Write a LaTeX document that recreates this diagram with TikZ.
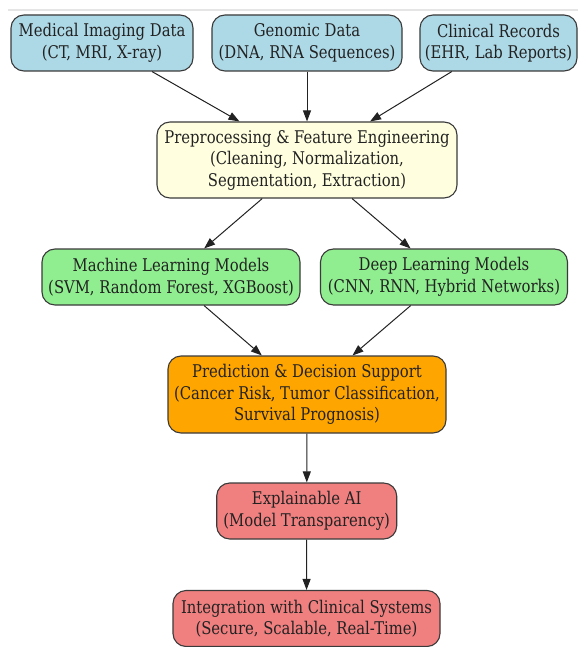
\documentclass[tikz,border=0pt]{standalone}
\usepackage{fontspec}
\setmainfont[FakeStretch=0.94]{DejaVu Serif Condensed}
\usetikzlibrary{arrows.meta}
\definecolor{cblue}{HTML}{ADD8E6}
\definecolor{cyellow}{HTML}{FFFFE0}
\definecolor{cgreen}{HTML}{90EE90}
\definecolor{corange}{HTML}{FFA500}
\definecolor{ccoral}{HTML}{F08080}
\definecolor{cborder}{HTML}{3A3A3A}
\definecolor{ctext}{HTML}{222222}
\tikzset{
  box/.style={draw=cborder, line width=1.1pt, rounded corners=13pt, align=center,
    inner sep=0pt, font=\fontsize{17.5}{21.5}\selectfont, text=ctext},
  flow/.style={draw=ctext, line width=1pt, -{Triangle[length=11pt,width=8pt]}}
}
\begin{document}
\begin{tikzpicture}[x=1pt,y=-1pt]
\useasboundingbox (0,0) rectangle (578,647);
\draw[black!10, line width=1.5pt] (8,10) -- (578,10);
\node[box, fill=cblue, minimum width=182pt, minimum height=56pt] (med) at (102,43) {Medical Imaging Data\\(CT, MRI, X-ray)};
\node[box, fill=cblue, minimum width=190pt, minimum height=56pt] (gen) at (307,43) {Genomic Data\\(DNA, RNA Sequences)};
\node[box, fill=cblue, minimum width=157pt, minimum height=56pt] (cli) at (498.5,43) {Clinical Records\\(EHR, Lab Reports)};
\node[box, fill=cyellow, minimum width=300pt, minimum height=76pt] (pre) at (307,160) {Preprocessing \& Feature Engineering\\(Cleaning, Normalization,\\Segmentation, Extraction)};
\node[box, fill=cgreen, minimum width=258pt, minimum height=56pt] (ml) at (171,277) {Machine Learning Models\\(SVM, Random Forest, XGBoost)};
\node[box, fill=cgreen, minimum width=247pt, minimum height=56pt] (dl) at (444,277) {Deep Learning Models\\(CNN, RNN, Hybrid Networks)};
\node[box, fill=corange, minimum width=278pt, minimum height=77pt] (pred) at (307,394.5) {Prediction \& Decision Support\\(Cancer Risk, Tumor Classification,\\Survival Prognosis)};
\node[box, fill=ccoral, minimum width=180pt, minimum height=56pt] (xai) at (306.7,511) {Explainable AI\\(Model Transparency)};
\node[box, fill=ccoral, minimum width=267pt, minimum height=56pt] (int) at (306.5,618.5) {Integration with Clinical Systems\\(Secure, Scalable, Real-Time)};
\draw[flow] (med) -- (pre);
\draw[flow] (gen) -- (pre);
\draw[flow] (cli) -- (pre);
\draw[flow] (pre) -- (ml);
\draw[flow] (pre) -- (dl);
\draw[flow] (ml) -- (pred);
\draw[flow] (dl) -- (pred);
\draw[flow] (pred) -- (xai);
\draw[flow] (xai) -- (int);
\end{tikzpicture}
\end{document}
